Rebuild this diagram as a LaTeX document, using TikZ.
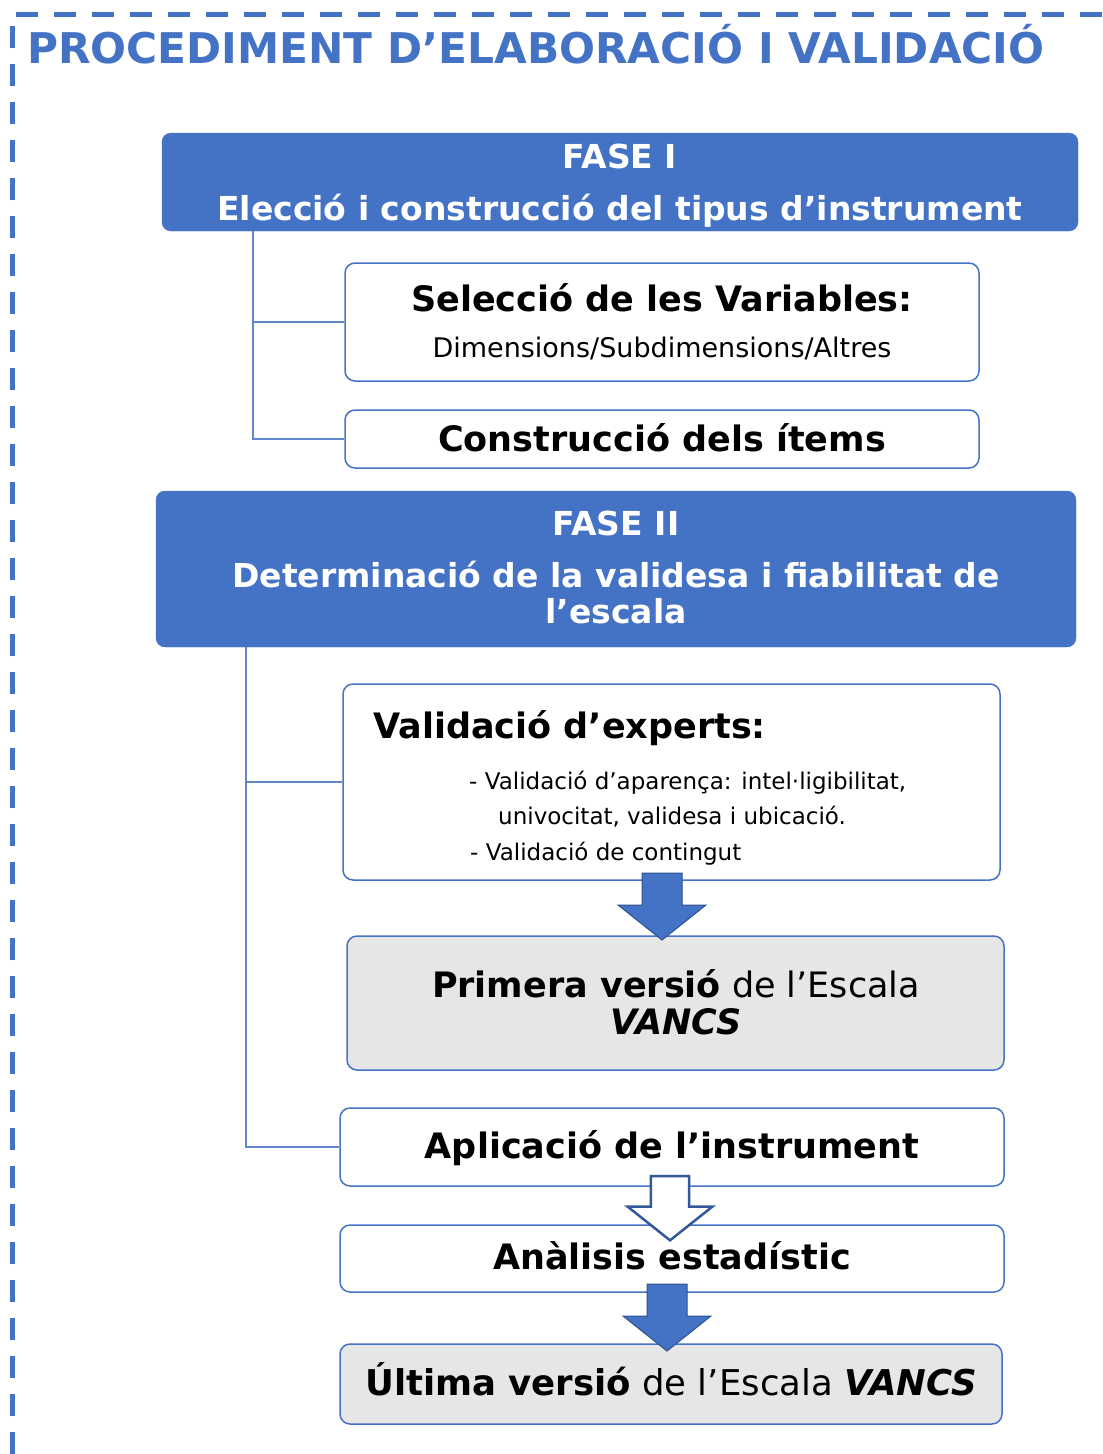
\documentclass[tikz,border=0pt]{standalone}
\usepackage{fontspec}
\setmainfont{DejaVu Sans}[BoldFont={DejaVu Sans Bold},ItalicFont={DejaVu Sans Oblique},BoldItalicFont={DejaVu Sans Bold Oblique}]
\usetikzlibrary{calc}
\definecolor{obl}{HTML}{4472C4}
\definecolor{obldk}{HTML}{2F528F}
\definecolor{ogr}{HTML}{E7E6E6}
\tikzset{
  phasebox/.style={draw=obl, fill=obl, rounded corners=9pt, inner sep=0pt},
  stepbox/.style={draw=obl, line width=1.5pt, fill=white, rounded corners=10pt, inner sep=0pt},
  greybox/.style={stepbox, fill=ogr},
  tree/.style={draw=obl!85, line width=1.6pt},
  phasetxt/.style={text=white, font=\bfseries\fontsize{33}{38}\selectfont, inner sep=0pt, anchor=base},
  headtxt/.style={text=black, font=\bfseries\fontsize{35}{42}\selectfont, inner sep=0pt, anchor=base},
  subtxt/.style={text=black, font=\fontsize{27}{31}\selectfont, inner sep=0pt, anchor=base},
  listtxt/.style={text=black, font=\fontsize{23}{28}\selectfont, inner sep=0pt, anchor=base west},
  barrow/.pic={\path[pic actions] (-20,0) -- (20,0) -- (20,32) -- (44,32) -- (0,67) -- (-44,32) -- (-20,32) -- cycle;},
}
\begin{document}
\begin{tikzpicture}[x=1pt,y=-1pt]
\useasboundingbox[fill=white] (0,0) rectangle (1103,1454);
% dashed frame
\draw[obl, line width=5pt, dash pattern=on 22pt off 16pt] (12,1454) -- (12,14) -- (1103,14);
% title
\node[text=obl, font=\bfseries\fontsize{42.3}{50}\selectfont, inner sep=0pt, anchor=base west] (title) at (27,63) {PROCEDIMENT D’ELABORACIÓ I VALIDACIÓ};

% boxes
\node[phasebox, minimum width=916pt, minimum height=98pt] (f1) at (620,182) {};
\node[stepbox, minimum width=634pt, minimum height=118pt] (sel) at (662,322) {};
\node[stepbox, minimum width=634pt, minimum height=58pt] (con) at (662,439) {};
\node[phasebox, minimum width=920pt, minimum height=156pt] (f2) at (616,569) {};
\node[stepbox, minimum width=657pt, minimum height=196pt] (val) at (671.5,782) {};
\node[greybox, minimum width=657pt, minimum height=134pt] (pri) at (675.5,1003) {};
\node[stepbox, minimum width=664pt, minimum height=78pt] (apl) at (672,1147) {};
\node[stepbox, minimum width=664pt, minimum height=67pt] (ana) at (672,1258.5) {};
\node[greybox, minimum width=662pt, minimum height=80pt] (ult) at (671,1384) {};

% tree connectors
\coordinate (t1) at (253,0);
\coordinate (t2) at (246,0);
\draw[tree] (t1 |- f1.south) |- (sel.west);
\draw[tree] (t1 |- f1.south) |- (con.west);
\draw[tree] (t2 |- f2.south) |- (val.west);
\draw[tree] (t2 |- f2.south) |- (apl.west);

% block arrows
\pic[fill=obl, draw=obldk, line width=1pt] at (662,873) {barrow};
\pic[fill=white, draw=obldk!80!obl, line width=2.5pt, scale=0.96] at (670,1176) {barrow};
\pic[fill=obl, draw=obldk, line width=1pt] at (667,1284) {barrow};

% texts
\node[phasetxt] (f1a) at (620,168) {FASE I};
\node[phasetxt] (f1b) at (620,220) {Elecció i construcció del tipus d’instrument};
\node[headtxt] (sela) at (662,311) {Selecció de les Variables:};
\node[subtxt] (selb) at (662,357) {Dimensions/Subdimensions/Altres};
\node[headtxt] (cona) at (662,451) {Construcció dels ítems};
\node[phasetxt] (f2a) at (616,535) {FASE II};
\node[phasetxt] (f2b) at (616,587) {Determinació de la validesa i fiabilitat de};
\node[phasetxt] (f2c) at (616,623) {l’escala};
\node[headtxt, anchor=base west] (vala) at (373,738) {Validació d’experts:};
\node[listtxt] (valb) at (469,789) {- Validació d’aparença: intel·ligibilitat,};
\node[listtxt] (valc) at (498,824) {univocitat, validesa i ubicació.};
\node[listtxt] (vald) at (470,860) {- Validació de contingut};
\node[headtxt, font=\fontsize{35}{42}\selectfont] (pria) at (676,997) {\textbf{Primera versió} de l’Escala};
\node[headtxt, font=\bfseries\itshape\fontsize{35}{42}\selectfont] (prib) at (676,1034) {VANCS};
\node[headtxt] (apla) at (672,1158) {Aplicació de l’instrument};
\node[headtxt] (anaa) at (672,1269) {Anàlisis estadístic};
\node[headtxt, font=\fontsize{35.5}{42}\selectfont] (ulta) at (671,1395) {\textbf{Última versió} de l’Escala \textbf{\itshape VANCS}};
\end{tikzpicture}
\end{document}
